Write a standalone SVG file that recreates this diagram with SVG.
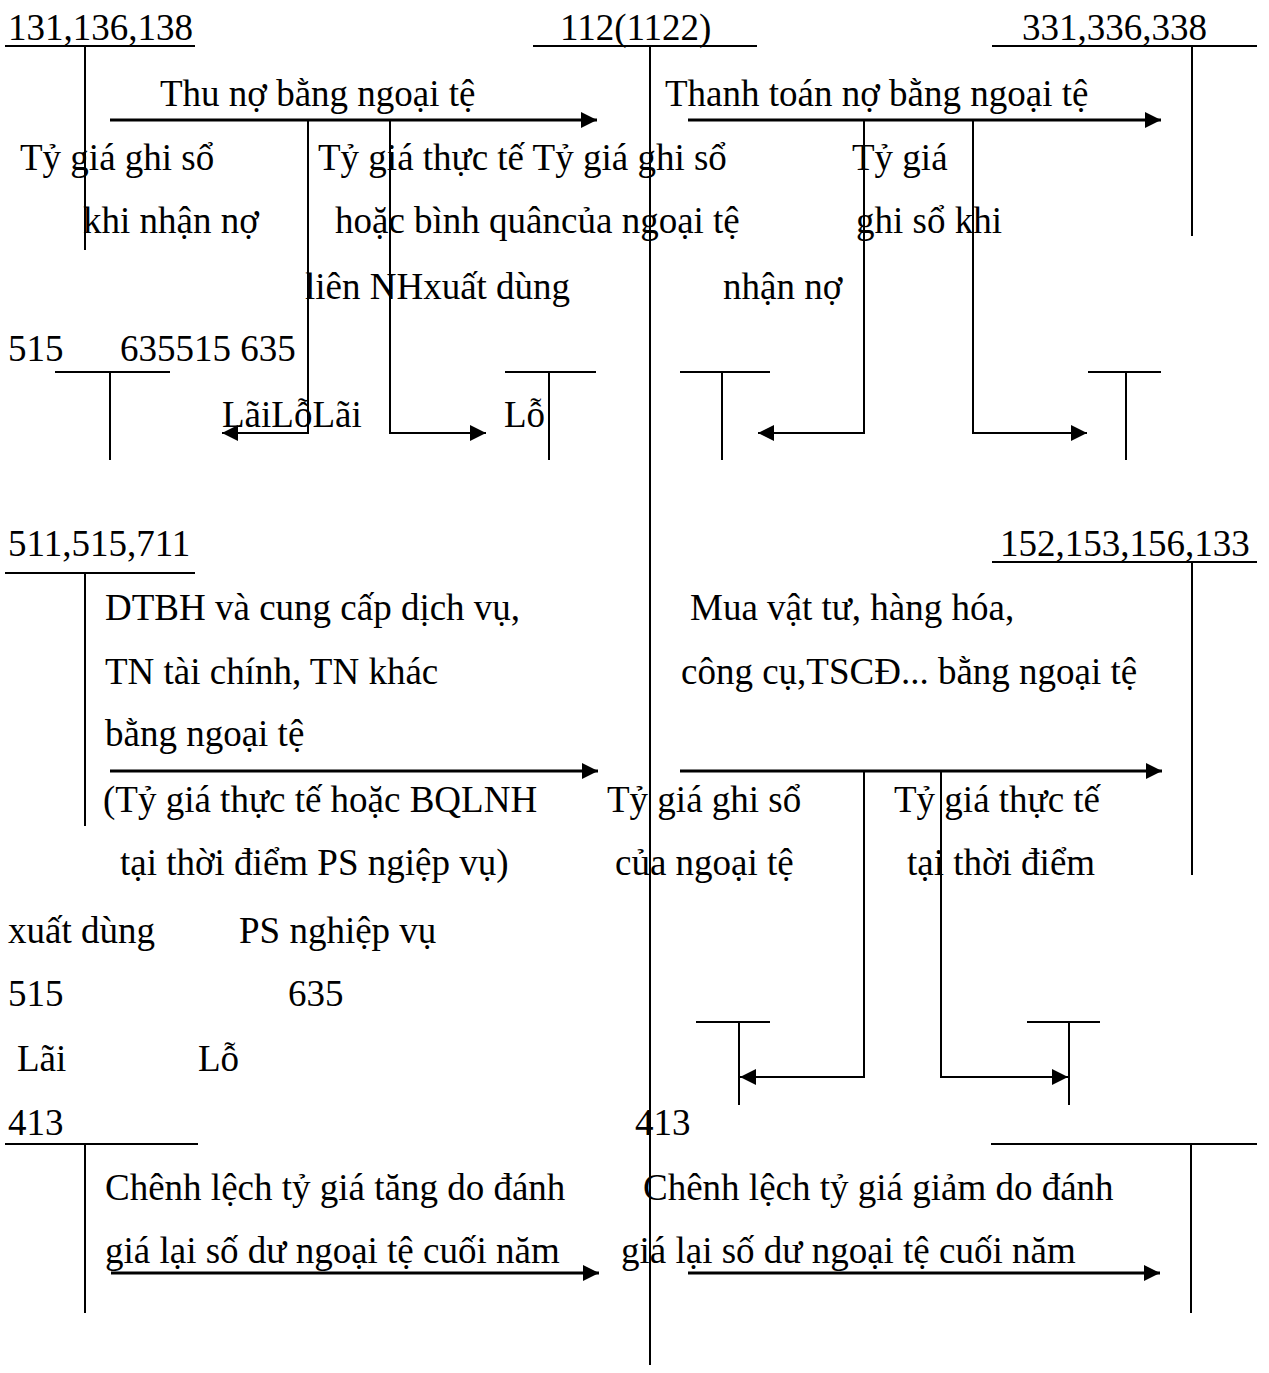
<svg xmlns="http://www.w3.org/2000/svg" width="1269" height="1373" viewBox="0 0 1269 1373">
<style>
text{font-family:"Liberation Serif","Times New Roman",serif;font-size:37px;fill:#000}
.t{stroke:#000;stroke-width:2;fill:none}
.a{stroke:#000;stroke-width:3;fill:none}
.c{stroke:#000;stroke-width:2;fill:none}
</style>
<defs>
<marker id="ah" markerUnits="userSpaceOnUse" markerWidth="18" markerHeight="16" refX="16" refY="8" orient="auto">
<path d="M0,0 L16,8 L0,16 Z" fill="#000"/>
</marker>
</defs>
<rect width="1269" height="1373" fill="#fff"/>

<g id="acc-131">
<text x="8" y="40">131,136,138</text>
<line class="t" x1="5" y1="46" x2="195" y2="46"/>
<line class="t" x1="85" y1="46" x2="85" y2="250"/>
</g>
<g id="acc-112">
<text x="560" y="40">112(1122)</text>
<line class="t" x1="533" y1="46" x2="757" y2="46"/>
<line class="t" x1="650" y1="46" x2="650" y2="1365"/>
</g>
<g id="acc-331">
<text x="1022" y="40">331,336,338</text>
<line class="t" x1="992" y1="46" x2="1257" y2="46"/>
<line class="t" x1="1192" y1="46" x2="1192" y2="236"/>
</g>
<g id="acc-515a">
<line class="t" x1="55" y1="372" x2="170" y2="372"/>
<line class="t" x1="110" y1="372" x2="110" y2="460"/>
</g>
<g id="acc-635a">
<line class="t" x1="505" y1="372" x2="596" y2="372"/>
<line class="t" x1="549" y1="372" x2="549" y2="460"/>
</g>
<g id="acc-515b">
<line class="t" x1="680" y1="372" x2="770" y2="372"/>
<line class="t" x1="722" y1="372" x2="722" y2="460"/>
</g>
<g id="acc-635b">
<line class="t" x1="1088" y1="372" x2="1161" y2="372"/>
<line class="t" x1="1126" y1="372" x2="1126" y2="460"/>
</g>
<g id="acc-511">
<text x="8" y="556">511,515,711</text>
<line class="t" x1="5" y1="573" x2="195" y2="573"/>
<line class="t" x1="85" y1="573" x2="85" y2="826"/>
</g>
<g id="acc-152">
<text x="1000" y="556">152,153,156,133</text>
<line class="t" x1="992" y1="562" x2="1257" y2="562"/>
<line class="t" x1="1192" y1="562" x2="1192" y2="875"/>
</g>
<g id="acc-515c">
<line class="t" x1="696" y1="1022" x2="770" y2="1022"/>
<line class="t" x1="739" y1="1022" x2="739" y2="1105"/>
</g>
<g id="acc-635c">
<line class="t" x1="1027" y1="1022" x2="1100" y2="1022"/>
<line class="t" x1="1069" y1="1022" x2="1069" y2="1105"/>
</g>
<g id="acc-413a">
<text x="8" y="1135">413</text>
<line class="t" x1="5" y1="1144" x2="198" y2="1144"/>
<line class="t" x1="85" y1="1144" x2="85" y2="1313"/>
</g>
<g id="acc-413b">
<text x="635" y="1135">413</text>
<line class="t" x1="991" y1="1144" x2="1257" y2="1144"/>
<line class="t" x1="1191" y1="1144" x2="1191" y2="1313"/>
</g>

<g id="connectors">
<line class="a" x1="110" y1="120" x2="597" y2="120" marker-end="url(#ah)"/>
<line class="a" x1="688" y1="120" x2="1161" y2="120" marker-end="url(#ah)"/>
<polyline class="c" points="308,120 308,433 222,433" marker-end="url(#ah)"/>
<polyline class="c" points="390,120 390,433 486,433" marker-end="url(#ah)"/>
<polyline class="c" points="864,120 864,433 758,433" marker-end="url(#ah)"/>
<polyline class="c" points="973,120 973,433 1087,433" marker-end="url(#ah)"/>
<line class="a" x1="110" y1="771" x2="598" y2="771" marker-end="url(#ah)"/>
<line class="a" x1="680" y1="771" x2="1162" y2="771" marker-end="url(#ah)"/>
<polyline class="c" points="864,771 864,1077 740,1077" marker-end="url(#ah)"/>
<polyline class="c" points="941,771 941,1077 1068,1077" marker-end="url(#ah)"/>
<line class="a" x1="111" y1="1273" x2="599" y2="1273" marker-end="url(#ah)"/>
<line class="a" x1="688" y1="1273" x2="1160" y2="1273" marker-end="url(#ah)"/>
</g>

<g id="labels">
<text x="160" y="106">Thu nợ bằng ngoại tệ</text>
<text x="665" y="106">Thanh toán nợ bằng ngoại tệ</text>
<text x="20" y="170">Tỷ giá ghi sổ</text>
<text x="318" y="170">Tỷ giá thực tế Tỷ giá ghi sổ</text>
<text x="852" y="170">Tỷ giá</text>
<text x="83" y="233">khi nhận nợ</text>
<text x="335" y="233">hoặc bình quâncủa ngoại tệ</text>
<text x="856" y="233">ghi sổ khi</text>
<text x="305" y="299">liên NHxuất dùng</text>
<text x="723" y="299">nhận nợ</text>
<text x="8" y="361">515</text>
<text x="120" y="361">635515 635</text>
<text x="222" y="427">LãiLỗLãi</text>
<text x="504" y="427">Lỗ</text>
<text x="105" y="620">DTBH và cung cấp dịch vụ,</text>
<text x="105" y="684">TN tài chính, TN khác</text>
<text x="105" y="746">bằng ngoại tệ</text>
<text x="690" y="620">Mua vật tư, hàng hóa,</text>
<text x="681" y="684">công cụ,TSCĐ... bằng ngoại tệ</text>
<text x="103" y="812">(Tỷ giá thực tế hoặc BQLNH</text>
<text x="607" y="812">Tỷ giá ghi sổ</text>
<text x="894" y="812">Tỷ giá thực tế</text>
<text x="120" y="875">tại thời điểm PS ngiệp vụ)</text>
<text x="615" y="875">của ngoại tệ</text>
<text x="907" y="875">tại thời điểm</text>
<text x="8" y="943">xuất dùng</text>
<text x="239" y="943">PS nghiệp vụ</text>
<text x="8" y="1006">515</text>
<text x="288" y="1006">635</text>
<text x="17" y="1071">Lãi</text>
<text x="198" y="1071">Lỗ</text>
<text x="105" y="1200">Chênh lệch tỷ giá tăng do đánh</text>
<text x="105" y="1263">giá lại số dư ngoại tệ cuối năm</text>
<text x="643" y="1200">Chênh lệch tỷ giá giảm do đánh</text>
<text x="621" y="1263">giá lại số dư ngoại tệ cuối năm</text>
</g>
</svg>
